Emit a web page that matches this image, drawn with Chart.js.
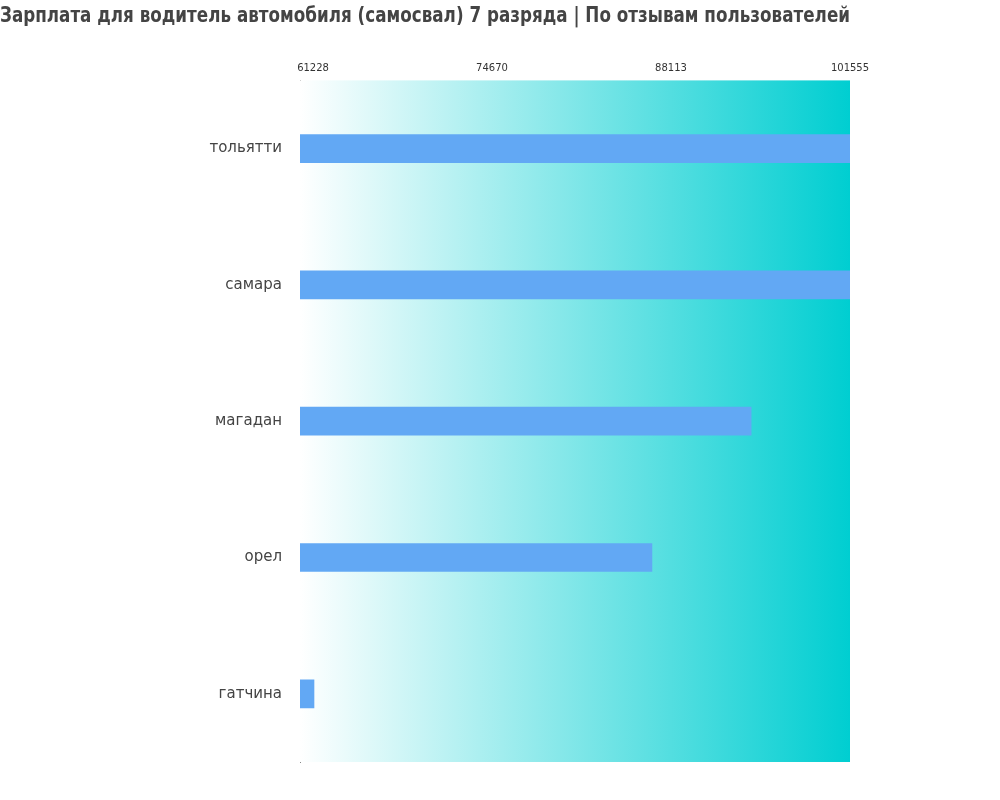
<!DOCTYPE html>
<html><head><meta charset="utf-8">
<script src="https://cdn.jsdelivr.net/npm/chart.js@4"></script>
<style>html,body{margin:0;padding:0;background:#fff}#w{width:1000px;height:800px}</style>
</head><body><div id="w"><canvas id="c"></canvas></div>
<script>
const categories = ["тольятти","самара","магадан","орел","гатчина"];
const values = [101555,101555,94130,86680,61300];
const tickValues = [61228,74670,88113,101555];
const axisMin = 60249, axisMax = 101555;
const titleText = "Зарплата для водитель автомобиля (самосвал) 7 разряда | По отзывам пользователей";

const bg = {id:'bg',beforeDatasetsDraw(ch){const a=ch.chartArea,x=ch.ctx;const g=x.createLinearGradient(a.left,0,a.right,0);g.addColorStop(0,'#ffffff');g.addColorStop(1,'#00CED1');x.save();x.fillStyle=g;x.fillRect(a.left,a.top,a.right-a.left,a.bottom-a.top);x.restore();}};

new Chart(document.getElementById('c'),{
 type:'bar',
 data:{labels:categories,datasets:[{data:values,backgroundColor:'#62a8f4',barThickness:28}]},
 plugins:[bg],
 options:{indexAxis:'y',responsive:true,maintainAspectRatio:false,animation:false,
  layout:{padding:{left:0,right:150,top:0,bottom:38}},
  plugins:{legend:{display:false},tooltip:{enabled:false},
   title:{display:true,text:titleText,color:'#444',font:{size:22,weight:'bold',family:'DejaVu Sans'},padding:{top:3,bottom:32}}},
  scales:{
   x:{position:'top',min:axisMin,max:axisMax,
    afterBuildTicks(s){s.ticks=tickValues.map(v=>({value:v}));},
    grid:{display:false,drawTicks:true,tickLength:5,color:'#888'},border:{display:false},
    ticks:{color:'#333',font:{size:10,family:'DejaVu Sans'},padding:1,autoSkip:false,maxRotation:0,callback:v=>String(v)}},
   y:{afterFit(s){s.width=300;},grid:{display:false},border:{display:true,color:'#888'},
    ticks:{color:'#444',font:{size:15,family:'DejaVu Sans'},padding:10}}
  }}
});
</script></body></html>
